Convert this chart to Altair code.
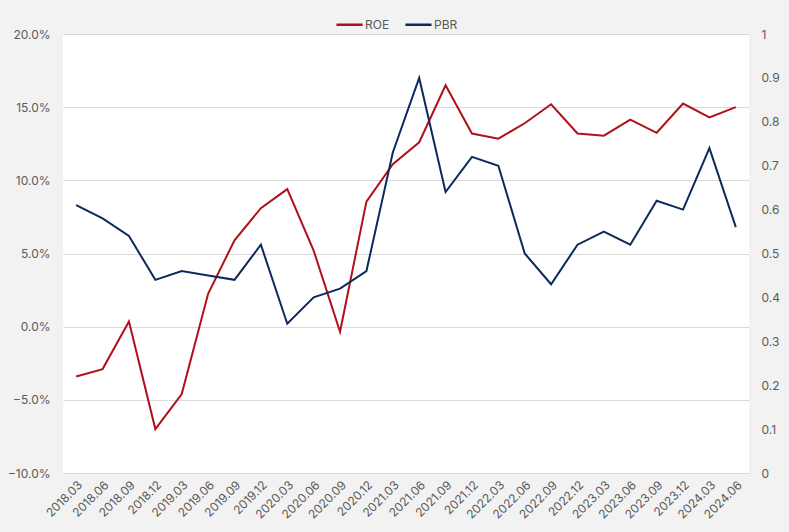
import altair as alt
import pandas as pd

periods = ["2018.03","2018.06","2018.09","2018.12","2019.03","2019.06","2019.09","2019.12",
           "2020.03","2020.06","2020.09","2020.12","2021.03","2021.06","2021.09","2021.12",
           "2022.03","2022.06","2022.09","2022.12","2023.03","2023.06","2023.09","2023.12",
           "2024.03","2024.06"]
roe = [-3.4,-2.9,0.35,-7.0,-4.6,2.25,5.9,8.1,9.4,5.2,-0.35,8.55,11.1,12.6,16.5,13.2,
       12.85,13.9,15.2,13.2,13.05,14.15,13.25,15.25,14.3,15.0]
pbr = [0.61,0.58,0.54,0.44,0.46,0.45,0.44,0.52,0.34,0.40,0.42,0.46,0.73,0.90,0.64,0.72,
       0.70,0.50,0.43,0.52,0.55,0.52,0.62,0.60,0.74,0.56]

df = pd.DataFrame({
    "period": periods * 2,
    "series": ["ROE"] * len(periods) + ["PBR"] * len(periods),
    "roe": [v / 100 for v in roe] + [None] * len(periods),
    "pbr": [None] * len(periods) + pbr,
})

FONT = "Inter"
TXT = "#595959"

color = alt.Color("series:N",
                  scale=alt.Scale(domain=["ROE", "PBR"], range=["#b0101a", "#0c2a5b"]),
                  legend=alt.Legend(title=None, orient="none", direction="horizontal",
                                    legendX=272, legendY=-24, symbolType="stroke",
                                    symbolSize=680, symbolStrokeWidth=2.5,
                                    labelFont=FONT, labelFontSize=12, labelColor=TXT,
                                    columnPadding=10, labelOffset=1))

x = alt.X("period:N", sort=periods, title=None,
          scale=alt.Scale(paddingInner=0, paddingOuter=0.5),
          axis=alt.Axis(labelAngle=-45, labelFont=FONT, labelFontSize=12, labelColor=TXT,
                        ticks=False, domain=False, grid=False, labelPadding=6))

base = alt.Chart(df)

left = base.transform_filter(alt.datum.series == "ROE").mark_line(strokeWidth=2).encode(
    x=x,
    y=alt.Y("roe:Q", title=None,
            scale=alt.Scale(domain=[-0.10, 0.20], nice=False),
            axis=alt.Axis(format=".1%", values=[-0.10, -0.05, 0, 0.05, 0.10, 0.15, 0.20],
                          labelFont=FONT, labelFontSize=12, labelColor=TXT,
                          ticks=False, domain=False, grid=True, gridColor="#d9d9d9",
                          labelPadding=13)),
    color=color,
)

right = base.transform_filter(alt.datum.series == "PBR").mark_line(strokeWidth=2).encode(
    x=x,
    y=alt.Y("pbr:Q", title=None,
            scale=alt.Scale(domain=[0, 1], nice=False),
            axis=alt.Axis(orient="right", format="~g",
                          values=[0, 0.1, 0.2, 0.3, 0.4, 0.5, 0.6, 0.7, 0.8, 0.9, 1.0],
                          labelFont=FONT, labelFontSize=12, labelColor=TXT,
                          ticks=False, domain=False, grid=False, labelPadding=12)),
    color=color,
)

chart = alt.layer(left, right).resolve_scale(y="independent").properties(
    width=686, height=439,
    background="#f2f2f2",
    autosize=alt.AutoSizeParams(type="none"),
    padding={"left": 63, "top": 34, "right": 40, "bottom": 59},
).configure_view(fill="white", stroke=None)

chart.save("out.html", embed_options={"renderer": "svg", "actions": False})
